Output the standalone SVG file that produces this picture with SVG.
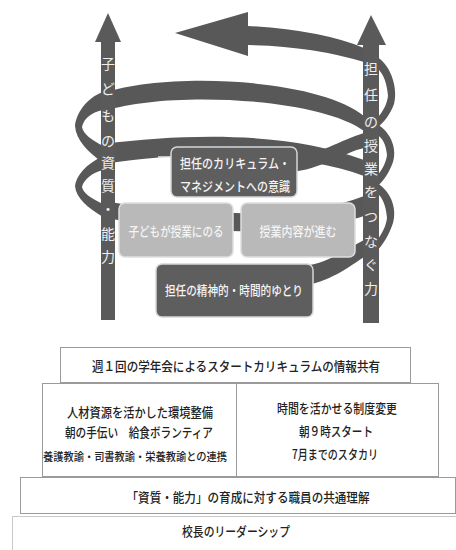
<svg xmlns="http://www.w3.org/2000/svg" width="456" height="550" viewBox="0 0 456 550">
<style>
.band{fill:#585858}
.shaft{fill:#5a5a5a}
.dark{fill:#5e5e5e;stroke:#d6d6d6;stroke-width:1.5}
.light{fill:#b9b9b9;stroke:#dedede;stroke-width:1.5}
.wt{fill:#f4f4f4;font-family:"Noto Sans CJK JP","Noto Sans",sans-serif;font-size:13px;font-weight:500;text-anchor:middle;dominant-baseline:central}
.vt{fill:#eeeeee;font-family:"Noto Sans CJK JP","Noto Sans",sans-serif;font-size:14px;text-anchor:middle;dominant-baseline:central}
.box{fill:#ffffff;stroke:#9a9a9a;stroke-width:1}
.bt{fill:#222222;font-family:"Noto Sans CJK JP","Noto Sans",sans-serif;font-size:13px;font-weight:500;text-anchor:middle;dominant-baseline:central}
</style>
<rect width="456" height="550" fill="#ffffff"/>
<g id="connectors">
  <path class="band" d="M248 26 Q320 30 364 48 L364 62 Q312 46 248 45 Z"/>
  <polygon class="band" points="175,33 248,12 248,56"/>
  <path class="band" d="M364 116 C320 79 170 71 104 93 L104 111 C170 90 320 98 364 131 Z"/>
  <path class="band" d="M104 144 C190 133 290 132 364 160 L364 176 C300 152 190 150 104 164 Z"/>
  <path class="band" d="M364 133 C340 140 320 155 290 158 L180 158 L180 172 L290 172 C320 170 345 152 364 148 Z"/>
  <path class="band" d="M104 201 C180 214 300 222 364 196 L364 216 C300 237 180 235 104 217 Z"/>
  <path class="band" d="M364 240 C345 250 330 262 305 266 L305 286 C335 279 350 266 364 257 Z"/>
  <path class="band" d="M377 57 C392 66 398 90 394 104 C390 115 384 122 377 128 L377 118 C383 112 387 104 388 96 C387 84 384 74 377 68 Z"/>
  <path class="band" d="M377 124 C392 133 397 150 393 162 C389 173 384 180 377 187 L377 176 C382 170 386 163 387 155 C386 145 383 138 377 135 Z"/>
  <path class="band" d="M377 183 C392 192 397 210 393 223 C389 235 384 243 377 251 L377 240 C382 234 386 226 387 218 C386 206 383 198 377 193 Z"/>
  <path class="band" d="M103 92 C86 98 76 114 75 126 C76 140 88 152 103 163 L103 146 C92 140 83 134 82 127 C84 118 92 112 103 110 Z"/>
  <path class="band" d="M103 156 C86 164 76 176 75 186 C76 198 88 208 103 217 L103 204 C92 199 83 193 82 187 C84 179 92 173 103 170 Z"/>
  <line x1="158" y1="157" x2="172" y2="157" stroke="#e6e6e6" stroke-width="1.5"/>
</g>
<g id="arrow-left">
  <rect class="shaft" x="101" y="41" width="14" height="279"/>
  <polygon class="shaft" points="108,13 95,42 121,42"/>
  <text class="vt"><tspan x="108" y="63">子</tspan><tspan x="108" y="88">ど</tspan><tspan x="108" y="115">も</tspan><tspan x="108" y="140">の</tspan><tspan x="108" y="162">資</tspan><tspan x="108" y="185">質</tspan><tspan x="108" y="208">・</tspan><tspan x="108" y="233">能</tspan><tspan x="108" y="256">力</tspan></text>
</g>
<g id="arrow-right">
  <rect class="shaft" x="363" y="44" width="16" height="279"/>
  <polygon class="shaft" points="371,15 357,45 386,45"/>
  <text class="vt"><tspan x="371" y="68">担</tspan><tspan x="371" y="94">任</tspan><tspan x="371" y="121">の</tspan><tspan x="371" y="145">授</tspan><tspan x="371" y="168">業</tspan><tspan x="371" y="191">を</tspan><tspan x="371" y="216">つ</tspan><tspan x="371" y="241">な</tspan><tspan x="371" y="264">ぐ</tspan><tspan x="371" y="288">力</tspan></text>
</g>
<g id="node-cm">
  <rect class="dark" x="171" y="147" width="126" height="50" rx="6"/>
  <text class="wt" x="235" y="162" textLength="110" lengthAdjust="spacingAndGlyphs">担任のカリキュラム・</text>
  <text class="wt" x="235" y="185" textLength="110" lengthAdjust="spacingAndGlyphs">マネジメントへの意識</text>
</g>
<g id="node-child">
  <rect class="light" x="119" y="203" width="114" height="54" rx="6"/>
  <text class="wt" x="176" y="230" textLength="95" lengthAdjust="spacingAndGlyphs">子どもが授業にのる</text>
</g>
<g id="node-lesson">
  <rect class="light" x="241" y="203" width="114" height="54" rx="6"/>
  <text class="wt" x="298" y="230" textLength="77" lengthAdjust="spacingAndGlyphs">授業内容が進む</text>
</g>
<g id="node-yutori">
  <rect class="dark" x="156" y="264" width="157" height="53" rx="6"/>
  <text class="wt" x="234" y="289" textLength="138" lengthAdjust="spacingAndGlyphs">担任の精神的・時間的ゆとり</text>
</g>
<g id="level-1">
  <rect class="box" x="60.5" y="347.5" width="350" height="35"/>
  <text class="bt" x="236" y="365" textLength="288" lengthAdjust="spacingAndGlyphs">週１回の学年会によるスタートカリキュラムの情報共有</text>
</g>
<g id="level-2">
  <rect class="box" x="42.5" y="383.5" width="396" height="93"/>
  <line x1="236.5" y1="383.5" x2="236.5" y2="476.5" stroke="#9a9a9a" stroke-width="1"/>
  <text class="bt" x="140" y="411" textLength="146" lengthAdjust="spacingAndGlyphs">人材資源を活かした環境整備</text>
  <text class="bt" x="139" y="431" textLength="148" lengthAdjust="spacingAndGlyphs">朝の手伝い　給食ボランティア</text>
  <text class="bt" x="135" y="456" style="font-size:11px" textLength="184" lengthAdjust="spacingAndGlyphs">養護教諭・司書教諭・栄養教諭との連携</text>
  <text class="bt" x="337" y="407" textLength="120" lengthAdjust="spacingAndGlyphs">時間を活かせる制度変更</text>
  <text class="bt" x="336" y="430" textLength="74" lengthAdjust="spacingAndGlyphs">朝９時スタート</text>
  <text class="bt" x="335" y="453" textLength="86" lengthAdjust="spacingAndGlyphs">7月までのスタカリ</text>
</g>
<g id="level-3">
  <rect class="box" x="20.5" y="477.5" width="435" height="36"/>
  <text class="bt" x="248" y="496" textLength="243" lengthAdjust="spacingAndGlyphs">「資質・能力」の育成に対する職員の共通理解</text>
</g>
<g id="level-4">
  <rect x="12.5" y="516.5" width="450" height="40" fill="#ffffff" stroke="#c8c8c8" stroke-width="1"/>
  <text class="bt" x="236" y="530" textLength="108" lengthAdjust="spacingAndGlyphs">校長のリーダーシップ</text>
</g>
</svg>
